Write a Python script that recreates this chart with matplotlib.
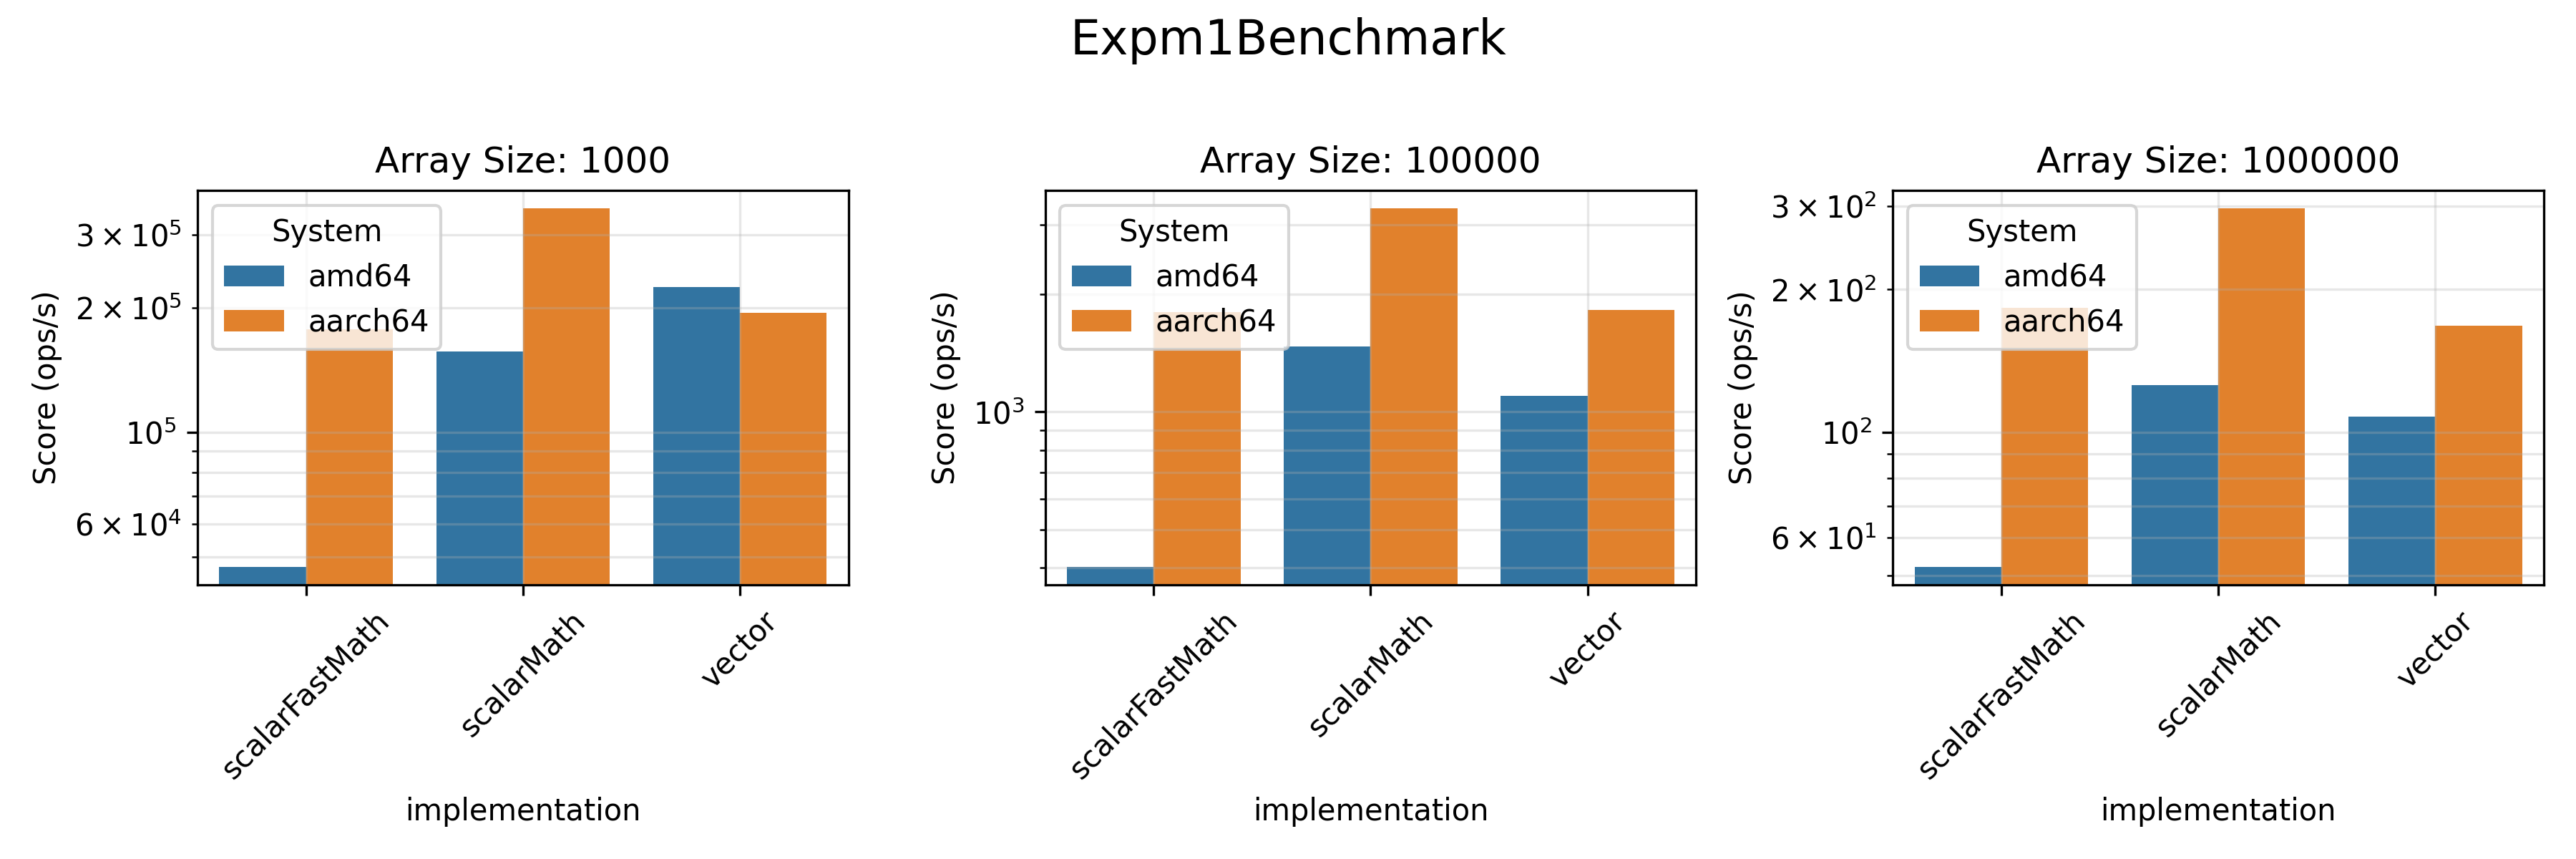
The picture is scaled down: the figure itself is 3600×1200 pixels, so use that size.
import matplotlib
matplotlib.use("Agg")
import matplotlib.pyplot as plt
import seaborn as sns
import pandas as pd

implementations = ["scalarFastMath", "scalarMath", "vector"]
systems = ["amd64", "aarch64"]
array_sizes = [1000, 100000, 1000000]

# scores per array size: amd64 then aarch64, ordered by implementation
amd64_1000 = [47300, 156500, 223900]
aarch64_1000 = [177100, 347000, 194300]
amd64_100000 = [403, 1472, 1100]
aarch64_100000 = [1799, 3301, 1822]
amd64_1000000 = [52.1, 125.6, 108.0]
aarch64_1000000 = [183.2, 296.0, 167.8]

series = {
    1000: (amd64_1000, aarch64_1000),
    100000: (amd64_100000, aarch64_100000),
    1000000: (amd64_1000000, aarch64_1000000),
}

rows = []
for size in array_sizes:
    a, b = series[size]
    for impl, v in zip(implementations, a):
        rows.append({"size": size, "implementation": impl, "System": "amd64", "score": v})
    for impl, v in zip(implementations, b):
        rows.append({"size": size, "implementation": impl, "System": "aarch64", "score": v})
df = pd.DataFrame(rows)

fig, axes = plt.subplots(1, 3, figsize=(12, 4), dpi=300)
for ax, size in zip(axes, array_sizes):
    d = df[df["size"] == size]
    sns.barplot(data=d, x="implementation", y="score", hue="System",
                order=implementations, hue_order=systems, ax=ax)
    ax.set_yscale("log")
    ax.set_title(f"Array Size: {size}", fontsize=12)
    ax.set_ylabel("Score (ops/s)")
    ax.set_xlabel("implementation")
    ax.tick_params(axis="x", rotation=45)
    ax.grid(True, which="both", alpha=0.3)
    ax.legend(title="System", loc="upper left")

fig.suptitle("Expm1Benchmark", fontsize=16)
fig.tight_layout()
fig.subplots_adjust(top=0.778)
fig.savefig("out.png", dpi=300)
